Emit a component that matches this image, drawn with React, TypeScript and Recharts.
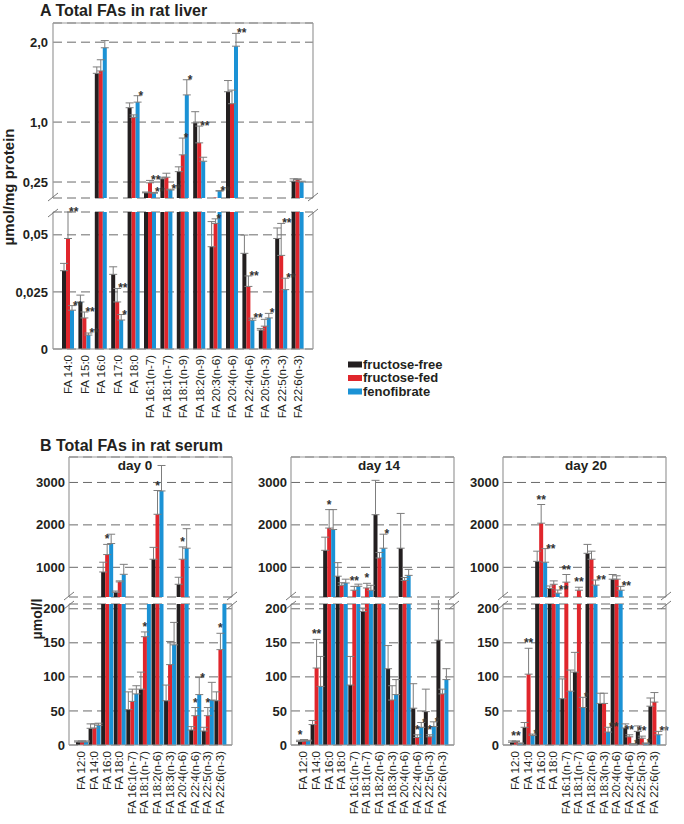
import React from "react";
import { BarChart, Bar, XAxis, YAxis, CartesianGrid, ErrorBar, LabelList } from "recharts";

const BLACK = "#231f20";
const RED = "#e0262c";
const BLUE = "#1b92d5";
const ERR = "#7d7d7d";
const FRAME = "#9a9a9a";
const FONT = '"Liberation Sans", Arial, Helvetica, sans-serif';

// ---------- A: total FAs in rat liver (µmol/mg protein)
const liverFAs = [
  "FA 14:0", "FA 15:0", "FA 16:0", "FA 17:0", "FA 18:0", "FA 16:1(n-7)", "FA 18:1(n-7)", "FA 18:1(n-9)",
  "FA 18:2(n-9)", "FA 20:3(n-6)", "FA 20:4(n-6)", "FA 22:4(n-6)", "FA 20:5(n-3)", "FA 22:5(n-3)", "FA 22:6(n-3)",
];
const liverFree = [0.0343, 0.0206, 1.61, 0.0327, 1.18, 0.115, 0.29, 0.38, 0.99, 0.0448, 1.38, 0.0419, 0.0083, 0.0484, 0.26];
const liverFed = [0.0484, 0.0136, 1.64, 0.0206, 1.06, 0.24, 0.31, 0.59, 0.74, 0.055, 1.23, 0.0274, 0.01, 0.041, 0.28];
const liverFeno = [0.017, 0.0061, 1.93, 0.0127, 1.25, 0.11, 0.15, 1.34, 0.51, 0.137, 1.95, 0.0126, 0.0136, 0.026, 0.25];
const liverFreeSd = [0.0032, 0.003, 0.08, 0.0033, 0.06, 0.01, 0.02, 0.06, 0.14, 0.011, 0.14, 0.008, 0.0007, 0.0046, 0.03];
const liverFedSd = [0.0116, 0.0026, 0.14, 0.0059, 0.03, 0.03, 0.05, 0.21, 0.21, 0.002, 0.17, 0.0046, 0.003, 0.014, 0.01];
const liverFenoSd = [0.002, 0.0009, 0.09, 0.0024, 0.08, 0.01, 0.01, 0.19, 0.05, 0.005, 0.16, 0.0009, 0.002, 0.005, 0.01];
const liverFreeSig = ["", "", "", "", "", "", "", "", "", "", "", "", "", "", ""];
const liverFedSig = ["**", "**", "", "**", "", "**", "", "*", "**", "*", "", "**", "", "**", ""];
const liverFenoSig = ["**", "**", "", "*", "*", "**", "**", "*", "", "**", "**", "**", "*", "**", ""];
const liverUpperTicks = [0.25, 1, 2];
const liverUpperLabels = ["0,25", "1,0", "2,0"];
const liverLowerTicks = [0, 0.025, 0.05];
const liverLowerLabels = ["0", "0,025", "0,05"];

// ---------- B: total FAs in rat serum (µmol/l)
const serumFAs = [
  "FA 12:0", "FA 14:0", "FA 16:0", "FA 18:0", "FA 16:1(n-7)", "FA 18:1(n-7)", "FA 18:2(n-6)",
  "FA 18:3(n-3)", "FA 20:4(n-6)", "FA 22:4(n-6)", "FA 22:5(n-3)", "FA 22:6(n-3)",
];
const day0Free = [4.4, 24.5, 890, 410, 52, 82, 1190, 65, 600, 22, 20.5, 65];
const day0Fed = [4.5, 25, 1300, 655, 64, 159, 2250, 118, 1190, 43, 43, 140];
const day0Feno = [4.5, 29, 1560, 835, 75, 240, 2800, 147, 1450, 74, 66, 230];
const day0FreeSd = [1.6, 6.5, 230, 30, 26, 25, 280, 23, 165, 5, 5.5, 13];
const day0FedSd = [1.5, 6, 240, 25, 18, 7, 560, 34, 290, 12, 12, 24];
const day0FenoSd = [1.5, 3, 220, 235, 12, 20, 600, 33, 460, 25, 26, 20];
const day0FreeSig = ["", "", "", "", "", "", "", "", "", "", "", ""];
const day0FedSig = ["", "", "*", "", "", "*", "*", "", "*", "*", "*", "*"];
const day0FenoSig = ["", "", "", "", "", "", "", "", "", "*", "", ""];

const day14Free = [5, 30, 1400, 790, 88, 196, 2240, 112, 1450, 54, 49, 154];
const day14Fed = [6, 113, 1925, 576, 460, 513, 1220, 66, 690, 11, 12, 75];
const day14Feno = [6, 86, 1890, 630, 553, 459, 1450, 74, 810, 26, 27, 96];
const day14FreeSd = [2, 6, 310, 320, 42, 5, 810, 34, 820, 36, 33, 86];
const day14FedSd = [2, 42, 435, 60, 90, 110, 130, 21, 70, 4, 3, 7];
const day14FenoSd = [1, 44, 470, 90, 50, 117, 330, 22, 140, 7, 7, 16];
const day14FreeSig = ["*", "", "", "", "", "", "", "", "", "", "", ""];
const day14FedSig = ["", "**", "*", "", "**", "*", "", "", "", "*", "*", ""];
const day14FenoSig = ["", "", "", "", "", "", "*", "", "", "*", "*", ""];

const day20Free = [4, 26, 1140, 500, 68, 107, 1330, 61, 720, 25, 20, 57];
const day20Fed = [5, 104, 2040, 600, 650, 460, 1190, 61, 720, 12, 10, 63];
const day20Feno = [2, 14, 1120, 390, 79, 55, 580, 19, 460, 1, 2, 15];
const day20FreeSd = [2, 7, 240, 60, 29, 29, 210, 15, 110, 6, 8, 12];
const day20FedSd = [1, 38, 440, 80, 180, 70, 190, 15, 80, 3, 3, 14];
const day20FenoSd = [1, 2, 320, 75, 31, 15, 120, 7, 90, 1, 1, 5];
const day20FreeSig = ["", "", "", "", "", "", "", "", "", "", "", ""];
const day20FedSig = ["**", "**", "**", "", "**", "**", "", "", "", "**", "**", ""];
const day20FenoSig = ["", "*", "**", "**", "", "*", "**", "**", "**", "*", "*", "**"];

const serumUpperTicks = [1000, 2000, 3000];
const serumLowerTicks = [0, 50, 100, 150, 200];

const SERIES = [
  { key: "free", color: BLACK, name: "fructose-free" },
  { key: "fed", color: RED, name: "fructose-fed" },
  { key: "feno", color: BLUE, name: "fenofibrate" },
];

const VTick = (props: any) => {
  const { x, y, payload } = props;
  return (
    <text x={x} y={y} transform={`rotate(-90, ${x}, ${y})`} textAnchor="end" dy="0.36em"
      fontSize={11.5} fontFamily={FONT} fill={BLACK}>
      {payload.value}
    </text>
  );
};

// significance stars, either beside the bar (side) or above its error bar
const starContent = (sig: string[], sd: number[], vals: number[], lo: number, hi: number, min: number, side: boolean) =>
  (props: any) => {
    const i = props.index;
    if (i == null || !sig[i]) return null;
    const v = vals[i];
    if (v < min || v > hi) return null;
    const vb = props.viewBox || props;
    const x = vb.x ?? props.x;
    const y = vb.y ?? props.y;
    const w = vb.width ?? props.width;
    const h = vb.height ?? props.height;
    const ppu = v > lo ? Math.abs(h) / (v - lo) : 0;
    const top = y - sd[i] * ppu;
    return (
      <text x={side ? x + w / 2 + 1 : x + w / 2} y={side ? top + 4 : top - 1} textAnchor={side ? "start" : "middle"}
        fontSize={12} fontWeight={700} fontFamily={FONT} fill="#333">
        {sig[i]}
      </text>
    );
  };

type SectionProps = {
  left: number; top: number; width: number; height: number;
  margin: { top: number; right: number; bottom: number; left: number };
  yWidth: number; lo: number; hi: number; min: number; ticks: number[]; tickLabels?: string[];
  cats: string[]; vals: number[][]; sds: number[][]; sigs: string[][]; sides: boolean[];
  showX: boolean; xHeight?: number; pad: number; catGap: number; tickMargin: number;
};

function Section(p: SectionProps) {
  const data = p.cats.map((c, i) => {
    const row: any = { name: c };
    SERIES.forEach((s, k) => {
      const v = p.vals[k][i];
      row[s.key] = v;
      row[s.key + "E"] = v >= p.min && v <= p.hi ? [0, p.sds[k][i]] : null;
    });
    return row;
  });
  const fmt = (v: number) => {
    if (!p.tickLabels) return String(v);
    const j = p.ticks.indexOf(v);
    return j >= 0 ? p.tickLabels[j] : String(v);
  };
  return (
    <div style={{ position: "absolute", left: p.left, top: p.top }}>
      <BarChart width={p.width} height={p.height} data={data} margin={p.margin} barGap={0} barCategoryGap={p.catGap}>
        <CartesianGrid vertical={false} stroke="#6a6a6a" strokeDasharray="9 5" />
        <XAxis dataKey="name" hide={!p.showX} height={p.xHeight ?? 0} interval={0} tickLine={false}
          axisLine={false} tickSize={0} tickMargin={6} padding={{ left: p.pad, right: p.pad }} tick={<VTick />} />
        <YAxis type="number" domain={[p.lo, p.hi]} allowDataOverflow ticks={p.ticks} interval={0}
          width={p.yWidth} tickLine={false} axisLine={false} tickSize={0} tickMargin={p.tickMargin}
          tickFormatter={fmt} tick={{ fontSize: 13, fontWeight: 700, fill: BLACK, fontFamily: FONT }} />
        {SERIES.map((s, k) => (
          <Bar key={s.key} dataKey={s.key} fill={s.color} isAnimationActive={false}>
            <ErrorBar dataKey={s.key + "E"} width={4} stroke={ERR} strokeWidth={1} direction="y" />
            <LabelList dataKey={s.key}
              content={starContent(p.sigs[k], p.sds[k], p.vals[k], p.lo, p.hi, p.min, p.sides[k])} />
          </Bar>
        ))}
      </BarChart>
    </div>
  );
}

const days = [
  { label: "day 0", cx: 135, left: 69, vals: [day0Free, day0Fed, day0Feno], sds: [day0FreeSd, day0FedSd, day0FenoSd], sigs: [day0FreeSig, day0FedSig, day0FenoSig] },
  { label: "day 14", cx: 379, left: 291, vals: [day14Free, day14Fed, day14Feno], sds: [day14FreeSd, day14FedSd, day14FenoSd], sigs: [day14FreeSig, day14FedSig, day14FenoSig] },
  { label: "day 20", cx: 586, left: 503, vals: [day20Free, day20Fed, day20Feno], sds: [day20FreeSd, day20FedSd, day20FenoSd], sigs: [day20FreeSig, day20FedSig, day20FenoSig] },
];
const B_W = 163;
const liverSides = [false, true, true];
const serumSides = [false, false, true];

function Frame({ l, r, t1, b1, t2, b2 }: { l: number; r: number; t1: number; b1: number; t2: number; b2: number }) {
  return (
    <g>
      <line x1={l} y1={t1} x2={r} y2={t1} stroke={FRAME} strokeWidth={1.2} />
      <line x1={l} y1={t1} x2={l} y2={b1} stroke={FRAME} strokeWidth={1.2} />
      <line x1={r} y1={t1} x2={r} y2={b1} stroke={FRAME} strokeWidth={1.2} />
      <line x1={l} y1={t2} x2={l} y2={b2} stroke={FRAME} strokeWidth={1.2} />
      <line x1={r} y1={t2} x2={r} y2={b2} stroke={FRAME} strokeWidth={1.2} />
      <line x1={l} y1={b2} x2={r} y2={b2} stroke={FRAME} strokeWidth={1.2} />
      {[l, r].map((x) => (
        <g key={x}>
          <line x1={x - 5} y1={b1 + 3} x2={x + 5} y2={b1 - 5} stroke="#777" strokeWidth={1} />
          <line x1={x - 5} y1={t2 + 5} x2={x + 5} y2={t2 - 3} stroke="#777" strokeWidth={1} />
        </g>
      ))}
    </g>
  );
}

export default function App() {
  return (
    <div style={{ position: "absolute", left: 0, top: 0, width: 684, height: 824, background: "#fff", fontFamily: FONT, overflow: "hidden" }}>
      <Section left={0} top={0} width={330} height={200} margin={{ top: 23, right: 17, bottom: 2, left: 0 }}
        yWidth={53} lo={0.05} hi={2.24} min={0.06} ticks={liverUpperTicks} tickLabels={liverUpperLabels}
        cats={liverFAs} vals={[liverFree, liverFed, liverFeno]} sds={[liverFreeSd, liverFedSd, liverFenoSd]}
        sigs={[liverFreeSig, liverFedSig, liverFenoSig]} sides={liverSides} showX={false} pad={7} catGap={2} tickMargin={5} />
      <Section left={0} top={200} width={330} height={230} margin={{ top: 12, right: 17, bottom: 0, left: 0 }}
        yWidth={53} lo={0} hi={0.06} min={0} ticks={liverLowerTicks} tickLabels={liverLowerLabels}
        cats={liverFAs} vals={[liverFree, liverFed, liverFeno]} sds={[liverFreeSd, liverFedSd, liverFenoSd]}
        sigs={[liverFreeSig, liverFedSig, liverFenoSig]} sides={liverSides} showX xHeight={81} pad={7} catGap={2} tickMargin={5} />

      {days.map((d) => (
        <React.Fragment key={d.label}>
          <Section left={d.left - 45} top={440} width={45 + B_W + 5} height={160}
            margin={{ top: 17, right: 5, bottom: 3, left: 0 }} yWidth={45} lo={300} hi={3600} min={300}
            ticks={serumUpperTicks} cats={serumFAs} vals={d.vals} sds={d.sds} sigs={d.sigs} sides={serumSides}
            showX={false} pad={6} catGap={1} tickMargin={4} />
          <Section left={d.left - 45} top={600} width={45 + B_W + 5} height={224}
            margin={{ top: 4, right: 5, bottom: 0, left: 0 }} yWidth={45} lo={0} hi={207} min={0}
            ticks={serumLowerTicks} cats={serumFAs} vals={d.vals} sds={d.sds} sigs={d.sigs} sides={serumSides}
            showX xHeight={79} pad={6} catGap={1} tickMargin={4} />
        </React.Fragment>
      ))}

      <svg width={684} height={824} style={{ position: "absolute", left: 0, top: 0, pointerEvents: "none" }}>
        <Frame l={53} r={313} t1={23} b1={198} t2={212} b2={349} />
        {days.map((d) => (
          <Frame key={d.label} l={d.left} r={d.left + B_W} t1={457} b1={597} t2={604} b2={745} />
        ))}

        <text x={40} y={16} fontSize={16} fontWeight={700} fontFamily={FONT} fill={BLACK}>A Total FAs in rat liver</text>
        <text x={40} y={450.5} fontSize={16} fontWeight={700} fontFamily={FONT} fill={BLACK}>B Total FAs in rat serum</text>

        <text x={14} y={187} transform="rotate(-90, 14, 187)" textAnchor="middle" fontSize={15} fontWeight={700} fontFamily={FONT} fill={BLACK}>µmol/mg protein</text>
        <text x={42} y={619} transform="rotate(-90, 42, 619)" textAnchor="middle" fontSize={14} fontWeight={700} fontFamily={FONT} fill={BLACK}>µmol/l</text>

        {days.map((d) => (
          <text key={d.label} x={d.cx} y={470} textAnchor="middle" fontSize={13.5} fontWeight={700} fontFamily={FONT} fill={BLACK}>{d.label}</text>
        ))}

        {SERIES.map((s, k) => (
          <g key={s.key}>
            <rect x={348} y={361.5 + k * 13.5} width={14} height={6} fill={s.color} />
            <text x={363} y={368.5 + k * 13.5} fontSize={13} fontWeight={700} fontFamily={FONT} fill={BLACK}>{s.name}</text>
          </g>
        ))}
      </svg>
    </div>
  );
}
